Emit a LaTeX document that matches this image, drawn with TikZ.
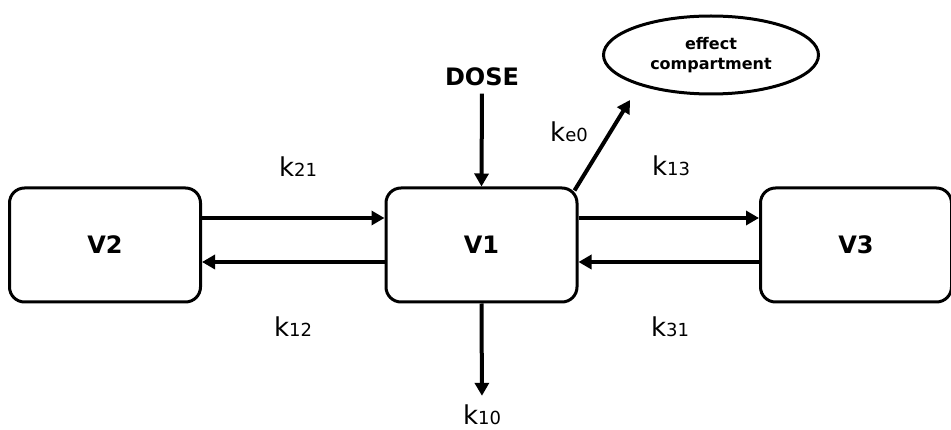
\documentclass[tikz,border=0pt]{standalone}
\usepackage{fontspec}
\setmainfont{DejaVu Sans}
\usetikzlibrary{shapes.geometric,arrows.meta,positioning}
\tikzstyle{comp} = [rectangle, draw, rounded corners=15pt, line width=3pt,
                    minimum width=191pt, minimum height=114pt,
                    font=\fontsize{24}{24}\selectfont\bfseries]
\tikzstyle{effect} = [ellipse, draw, line width=3pt, align=center,
                      minimum width=215pt, minimum height=78pt, inner sep=0pt,
                      font=\fontsize{16}{20}\selectfont\bfseries]
\tikzstyle{rate} = [inner sep=0pt, font=\fontsize{26}{26}\selectfont]
\tikzstyle{arrow} = [-{Triangle[length=13pt,width=14pt]}, line width=4pt]
\newcommand{\kr}[1]{k{\fontsize{18}{18}\selectfont #1}}

\begin{document}
\begin{tikzpicture}[x=1pt, y=-1pt]
    \useasboundingbox (0,0) rectangle (951,430);
    \node [comp] (v1) at (481.5,245) {V1};
    \node [comp] (v2) at (105,245)   {V2};
    \node [comp] (v3) at (856,245)   {V3};
    \node [font=\fontsize{24}{24}\selectfont\bfseries] (dose) at (482,77) {DOSE};
    \node [effect] (eff) at (711,55) {effect\\compartment};
    \coordinate (ke0tip) at (630,100);

    \node [rate] (k21) at (298,167) {\kr{21}};
    \node [rate] (k12) at (293,327) {\kr{12}};
    \node [rate] (k13) at (671,166) {\kr{13}};
    \node [rate] (k31) at (670,327) {\kr{31}};
    \node [rate] (ke0) at (569,132) {\kr{e0}};
    \node [rate] (k10) at (482,415) {\kr{10}};

    \draw [arrow] ([yshift=27pt]v2.east) -- ([yshift=27pt]v1.west);
    \draw [arrow] ([yshift=-17pt]v1.west) -- ([yshift=-17pt]v2.east);
    \draw [arrow] ([yshift=27pt]v1.east) -- ([yshift=27pt]v3.west);
    \draw [arrow] ([yshift=-17pt]v3.west) -- ([yshift=-17pt]v1.east);
    \draw [arrow, shorten <=4pt] (dose.south) -- (v1.north);
    \draw [arrow, shorten >=9pt] (v1.south) -- (k10.north);
    \draw [arrow] ([xshift=-4pt,yshift=-4pt]v1.north east) -- (ke0tip);
\end{tikzpicture}
\end{document}
